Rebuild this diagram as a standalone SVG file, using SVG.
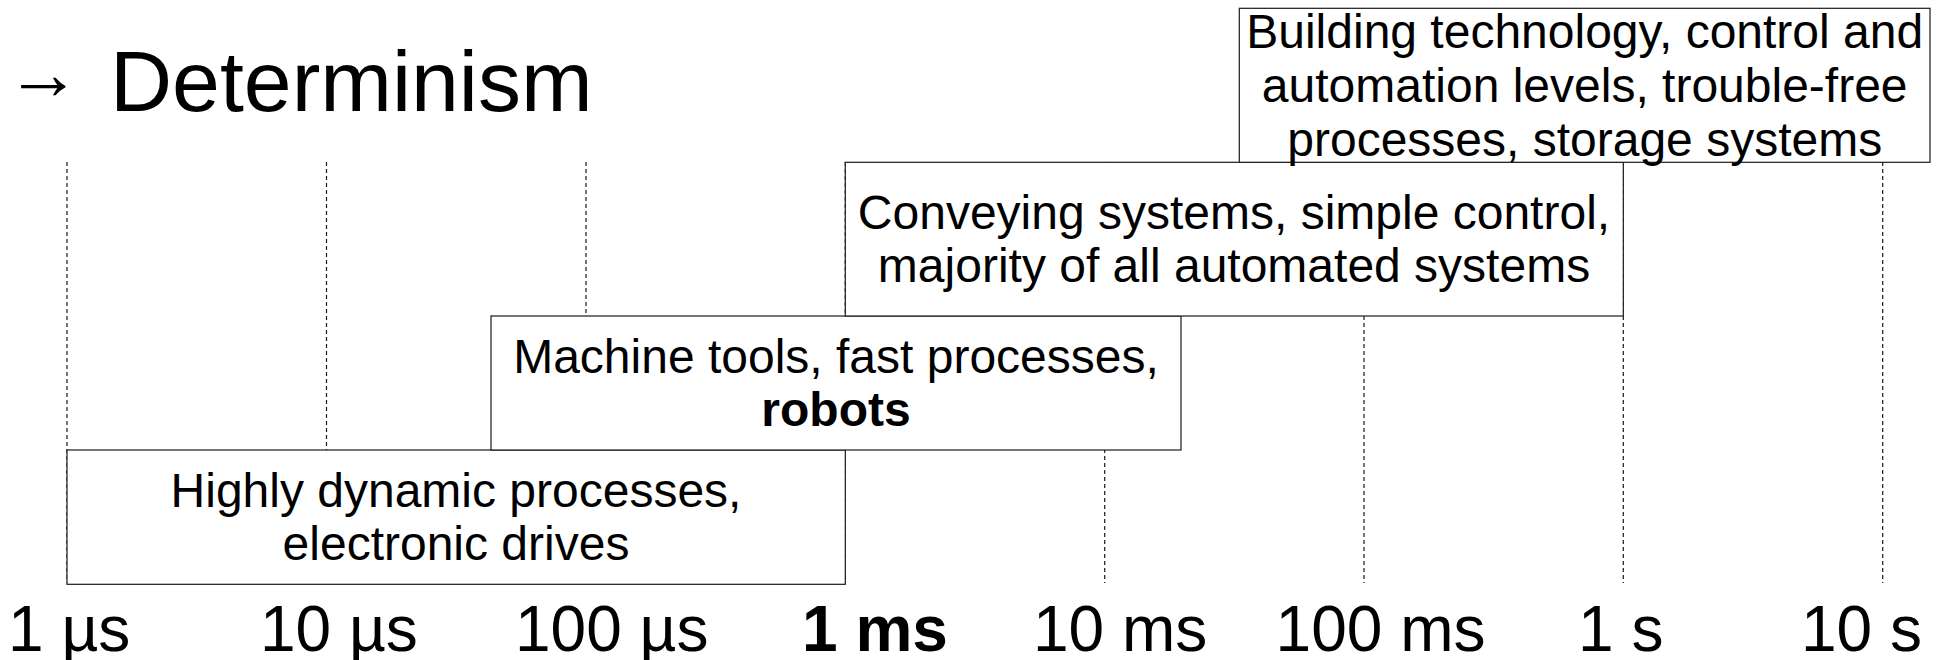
<svg xmlns="http://www.w3.org/2000/svg" width="1943" height="660" viewBox="0 0 1943 660">
<style>
text{font-family:"Liberation Sans",Arial,sans-serif;fill:#000}
.box{fill:#fff;stroke:#1a1a1a;stroke-width:1.2}
.lbl{font-size:48px;text-anchor:middle}
.tick{font-size:64px}
.grid{stroke:#1a1a1a;stroke-width:1.2;stroke-dasharray:4 3;fill:none}
.b{font-weight:bold}
</style>
<rect width="1943" height="660" fill="#fff"/>
<g id="title"><text y="111" font-size="86"><tspan x="6" y="98.6" font-size="75">→</tspan> <tspan x="110" y="111">Determinism</tspan></text></g>
<g id="connectors">
<line class="grid" x1="67" y1="162" x2="67" y2="583"/>
<line class="grid" x1="326.5" y1="162" x2="326.5" y2="583"/>
<line class="grid" x1="586" y1="162" x2="586" y2="583"/>
<line class="grid" x1="845.3" y1="162" x2="845.3" y2="583"/>
<line class="grid" x1="1104.7" y1="162" x2="1104.7" y2="583"/>
<line class="grid" x1="1364" y1="162" x2="1364" y2="583"/>
<line class="grid" x1="1623.3" y1="162" x2="1623.3" y2="583"/>
<line class="grid" x1="1882.7" y1="162" x2="1882.7" y2="583"/>
</g>
<g id="box-highly-dynamic">
<rect class="box" x="67" y="450" width="778.3" height="134.3"/>
<text class="lbl" x="456" y="506.8">Highly dynamic processes,</text>
<text class="lbl" x="456" y="560.4">electronic drives</text>
</g>
<g id="box-machine-tools">
<rect class="box" x="491" y="316" width="690" height="134"/>
<text class="lbl" x="836" y="372.8">Machine tools, fast processes,</text>
<text class="lbl b" x="836" y="426.4">robots</text>
</g>
<g id="box-conveying">
<rect class="box" x="845.3" y="162.3" width="778" height="153.7"/>
<text class="lbl" x="1234" y="228.8">Conveying systems, simple control,</text>
<text class="lbl" x="1234" y="282.4">majority of all automated systems</text>
</g>
<g id="box-building">
<rect class="box" x="1239.3" y="8.3" width="690.7" height="154"/>
<text class="lbl" x="1584.7" y="48.3">Building technology, control and</text>
<text class="lbl" x="1584.7" y="101.9">automation levels, trouble-free</text>
<text class="lbl" x="1584.7" y="155.5">processes, storage systems</text>
</g>
<g id="axis-labels">
<text class="tick" x="8" y="651">1 µs</text>
<text class="tick" x="260" y="651">10 µs</text>
<text class="tick" x="515" y="651">100 µs</text>
<text class="tick b" x="802" y="651">1 ms</text>
<text class="tick" x="1033" y="651">10 ms</text>
<text class="tick" x="1275.6" y="651">100 ms</text>
<text class="tick" x="1578" y="651">1 s</text>
<text class="tick" x="1801" y="651">10 s</text>
</g>
</svg>
